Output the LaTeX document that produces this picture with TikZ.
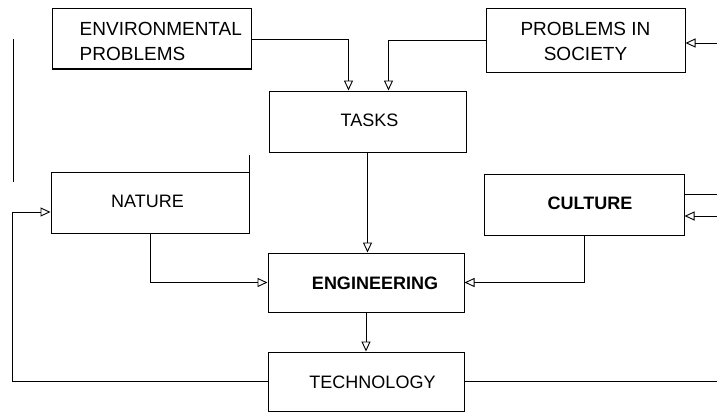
\documentclass[tikz,border=0pt]{standalone}
\usepackage{fontspec}
\setmainfont{Liberation Sans}
\usepackage{tikz}
\usetikzlibrary{arrows.meta,calc}

\begin{document}
\begin{tikzpicture}[x=1pt,y=-1pt,
  box/.style={draw,line width=1pt,inner sep=0pt},
  txt/.style={inner sep=0pt,font=\fontsize{18}{25}\selectfont,align=center},
  bigtxt/.style={inner sep=0pt,font=\fontsize{19}{25}\selectfont},
  link/.style={line width=0.9pt},
  flow/.style={line width=0.9pt,-{Triangle[open,length=10pt,width=9pt,line width=0.9pt]}},
  loop/.style={line width=1.6pt}]
\useasboundingbox (0,0) rectangle (717,412);
\coordinate (redge) at (717,0);
\coordinate (ledge) at (12,0);
% boxes
\node[box,minimum width=199pt,minimum height=60pt,
  label={[bigtxt,align=left,anchor=west,xshift=28pt,yshift=-2pt]west:ENVIRONMENTAL\\PROBLEMS}] (env) at (151.5,39) {};
\node[box,minimum width=199pt,minimum height=63pt,
  label={[bigtxt,align=center,yshift=-1pt]center:PROBLEMS IN\\SOCIETY}] (soc) at (585.5,40.5) {};
\node[box,minimum width=197pt,minimum height=61pt,
  label={[txt,xshift=2pt,yshift=1pt]center:TASKS}] (tasks) at (367.5,121.5) {};
\node[box,minimum width=198pt,minimum height=61pt,
  label={[txt,xshift=-2.5pt,yshift=1pt]center:NATURE}] (nature) at (150,202.5) {};
\node[box,minimum width=200pt,minimum height=61pt,
  label={[txt,xshift=6pt,yshift=1pt]center:\bfseries CULTURE}] (culture) at (584,204.5) {};
\node[box,minimum width=196pt,minimum height=59pt,
  label={[txt,xshift=9pt,yshift=-1pt]center:\bfseries ENGINEERING}] (eng) at (366,282.5) {};
\node[box,minimum width=196pt,minimum height=59pt,
  label={[txt,xshift=6.5pt,yshift=-1pt]center:TECHNOLOGY}] (tech) at (366,381.5) {};
\coordinate (natin) at ([yshift=-9.5pt]nature.west);
% problems feed the tasks
\draw[flow] (env.east) -| ([xshift=80pt]tasks.north west);
\draw[flow] (soc.west) -| ([xshift=120pt]tasks.north west);
\draw[flow] ([yshift=-2.5pt]soc.east -| redge) -- ([yshift=-2.5pt]soc.east);
% inputs to engineering
\draw[flow] (tasks.south) -- (tasks.south |- eng.north);
\draw[flow] (nature.south) |- (eng.west);
\draw[flow] (culture.south) |- (eng.east);
\draw[link] ([yshift=10.5pt]culture.east) -- ([yshift=10.5pt]culture.east -| redge);
\draw[flow] ([yshift=-11.5pt]culture.east -| redge) -- ([yshift=-11.5pt]culture.east);
\draw[link] (nature.north east) -- ++(0,-17);
% technology and its feedback
\draw[flow] (eng.south) -- (eng.south |- tech.north);
\draw[loop] (tech.east) -- (tech.east -| redge);
\draw[loop] (tech.west) -- (tech.west -| ledge);
\draw[flow] (tech.west -| ledge) -- (ledge |- natin) -- (natin);
\draw[link] (13,39) -- (13,182);
\end{tikzpicture}
\end{document}
